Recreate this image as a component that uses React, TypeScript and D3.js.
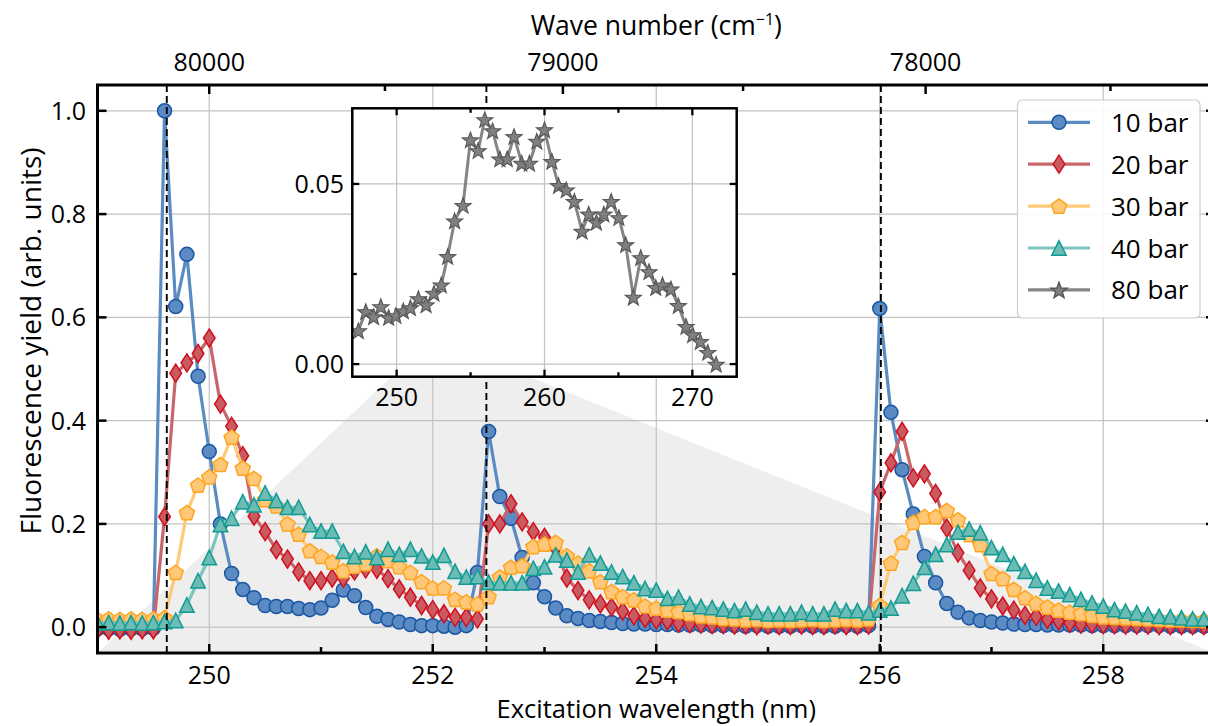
import React from 'react';
import * as d3 from 'd3';

// ---------- DATA ----------
const WL_START = 249.0;
const WL_STEP = 0.1;
const N_POINTS = 101;
const wavelengths: number[] = d3.range(N_POINTS).map((i) => +(WL_START + i * WL_STEP).toFixed(1));

const bar10 = [
  -0.003, -0.003, -0.004, -0.003, -0.003, -0.002,
  1.0, 0.621, 0.722, 0.486, 0.34, 0.2, 0.104, 0.073, 0.057, 0.042, 0.04, 0.04, 0.036, 0.034,
  0.037, 0.052, 0.072, 0.061, 0.038, 0.021, 0.015, 0.01, 0.005, 0.003,
  0.003, 0.002, 0.0, 0.003, 0.106, 0.379, 0.253, 0.211, 0.135, 0.086,
  0.059, 0.037, 0.022, 0.017, 0.013, 0.011, 0.009, 0.007, 0.006, 0.006, 0.005,
  0.005, 0.004, 0.004, 0.004, 0.003, 0.003, 0.003, 0.002, 0.003, 0.002, 0.002, 0.002, 0.003, 0.002,
  0.002, 0.002, 0.003, 0.002, 0.003,
  0.617, 0.416, 0.305, 0.219, 0.137, 0.086, 0.046, 0.029, 0.018, 0.013, 0.01, 0.008, 0.006, 0.005,
  0.005, 0.004, 0.004, 0.004, 0.004, 0.003, 0.003, 0.003, 0.003, 0.003, 0.003, 0.003, 0.002, 0.002,
  0.002, 0.002, 0.002,
];

const bar20 = [
  -0.005, -0.006, -0.005, -0.006, -0.005, -0.005,
  0.214, 0.492, 0.512, 0.53, 0.56, 0.432, 0.389, 0.332, 0.215, 0.185, 0.15, 0.132, 0.107, 0.09,
  0.09, 0.095, 0.095, 0.109, 0.113, 0.112, 0.094, 0.074, 0.058, 0.042,
  0.034, 0.026, 0.019, 0.019, 0.016, 0.2, 0.2, 0.239, 0.204, 0.185,
  0.174, 0.153, 0.095, 0.071, 0.053, 0.045, 0.039, 0.031, 0.022, 0.017, 0.014,
  0.012, 0.008, 0.007, 0.006, 0.005, 0.005, 0.004, 0.004, 0.003, 0.004, 0.003, 0.003, 0.004, 0.003,
  0.003, 0.004, 0.003, 0.003, 0.004,
  0.262, 0.318, 0.379, 0.289, 0.297, 0.259, 0.192, 0.144, 0.11, 0.076, 0.055, 0.041, 0.033, 0.023,
  0.021, 0.015, 0.012, 0.008, 0.006, 0.006, 0.005, 0.005, 0.004, 0.004, 0.004, 0.003, 0.003, 0.003,
  0.003, 0.003, 0.002,
];

const bar30 = [
  0.015, 0.016, 0.015, 0.016, 0.015, 0.016,
  0.018, 0.106, 0.222, 0.275, 0.291, 0.315, 0.368, 0.308, 0.288, 0.247, 0.235, 0.2, 0.18, 0.148,
  0.137, 0.126, 0.109, 0.118, 0.123, 0.138, 0.129, 0.117, 0.106, 0.088,
  0.076, 0.076, 0.054, 0.049, 0.045, 0.059, 0.097, 0.116, 0.119, 0.156,
  0.161, 0.164, 0.138, 0.124, 0.109, 0.088, 0.069, 0.059, 0.053, 0.041, 0.037,
  0.033, 0.03, 0.026, 0.022, 0.02, 0.017, 0.016, 0.014, 0.015, 0.013, 0.014, 0.013, 0.014, 0.015,
  0.013, 0.014, 0.015, 0.014, 0.016,
  0.042, 0.124, 0.164, 0.203, 0.214, 0.214, 0.226, 0.208, 0.179, 0.16, 0.104, 0.094, 0.073, 0.057,
  0.046, 0.039, 0.033, 0.029, 0.026, 0.023, 0.02, 0.019, 0.018, 0.017, 0.016, 0.015, 0.014, 0.014,
  0.013, 0.013, 0.012,
];

const bar40 = [
  0.008, 0.009, 0.008, 0.009, 0.008, 0.009,
  0.011, 0.013, 0.043, 0.09, 0.135, 0.199, 0.211, 0.243, 0.237, 0.26, 0.245, 0.232, 0.232, 0.199,
  0.186, 0.186, 0.147, 0.137, 0.146, 0.135, 0.151, 0.141, 0.151, 0.138,
  0.126, 0.139, 0.108, 0.097, 0.098, 0.087, 0.086, 0.086, 0.086, 0.114,
  0.117, 0.14, 0.13, 0.107, 0.14, 0.124, 0.107, 0.098, 0.086, 0.075,
  0.072, 0.056, 0.058, 0.045, 0.04, 0.038, 0.035, 0.032,
  0.035, 0.029, 0.026, 0.026, 0.026, 0.029, 0.026, 0.026, 0.035, 0.032, 0.032, 0.028,
  0.033, 0.037, 0.061, 0.085, 0.116, 0.141, 0.16, 0.184, 0.19, 0.183,
  0.154, 0.141, 0.123, 0.108, 0.091, 0.076, 0.07, 0.063, 0.054, 0.047,
  0.041, 0.034, 0.031, 0.028, 0.025, 0.021, 0.02, 0.018, 0.016, 0.016, 0.015,
];

// inset: 80 bar, wide scan
const insetWavelengths = [
  247.41, 247.91, 248.44, 248.93, 249.46, 249.95, 250.45, 250.93, 251.47, 251.99,
  252.52, 253.02, 253.45, 253.92, 254.49, 254.99, 255.51, 255.96, 256.49, 256.98,
  257.48, 257.94, 258.46, 258.98, 259.48, 260.0, 260.5, 260.95, 261.47, 262.02,
  262.54, 262.99, 263.51, 264.01, 264.51, 265.03, 265.49, 266.01, 266.51, 267.07,
  267.53, 267.98, 268.55, 269.05, 269.57, 270.02, 270.54, 271.04, 271.61,
];
const bar80 = [
  0.0093, 0.0146, 0.0132, 0.016, 0.013, 0.0135, 0.0148, 0.0157, 0.0182, 0.0165,
  0.0197, 0.022, 0.0299, 0.0398, 0.0441, 0.0623, 0.0593, 0.0679, 0.0648, 0.057,
  0.057, 0.0632, 0.0558, 0.0558, 0.0619, 0.0651, 0.0563, 0.0496, 0.0484, 0.0452,
  0.0369, 0.0417, 0.0394, 0.0417, 0.0452, 0.0407, 0.0332, 0.0186, 0.0296, 0.0257,
  0.0213, 0.022, 0.0209, 0.0163, 0.0105, 0.0082, 0.0063, 0.0033, 0.0,
];

const seriesNames = ['10 bar', '20 bar', '30 bar', '40 bar', '80 bar'];
const bottomTicks = [250, 252, 254, 256, 258];
const bottomMinorTicks = [251, 253, 255, 257];
const leftTicks = [0.0, 0.2, 0.4, 0.6, 0.8, 1.0];
const topTicks = [80000, 79000, 78000];
const topMinorTicks = [79500, 78500, 77500];
const markerWavelengths = [249.62, 252.48, 256.01];
const shadeX = [249, 252, 259];
const shadeY = [-0.05, 0.56, -0.05];
const insetXTicks = [250, 260, 270];
const insetXMinor = [255, 265];
const insetYTicks = [0.0, 0.05];
const insetYMinor = [0.025];

// ---------- STYLE ----------
const FONT = '"Open Sans", "Noto Sans", sans-serif';
const styles = [
  { line: '#5a8bc2', fill: '#5b8bc2', stroke: '#1a56a4', shape: 'circle' },
  { line: '#c8676b', fill: '#c95b60', stroke: '#d10f1f', shape: 'diamond' },
  { line: '#ffc978', fill: '#ffc878', stroke: '#ffa41f', shape: 'pentagon' },
  { line: '#7dc4bf', fill: '#6cbbb5', stroke: '#109b93', shape: 'triangle' },
  { line: '#858585', fill: '#808080', stroke: '#585858', shape: 'star' },
];

function markerPath(shape: string): string {
  switch (shape) {
    case 'circle': {
      const r = 7;
      return `M${r},0A${r},${r} 0 1,1 ${-r},0A${r},${r} 0 1,1 ${r},0Z`;
    }
    case 'diamond': {
      const h = 9, w = 5.8;
      return `M0,${-h}L${w},0L0,${h}L${-w},0Z`;
    }
    case 'pentagon': {
      const R = 7.9;
      const pts = d3.range(5).map((k) => {
        const a = (-90 + 72 * k) * Math.PI / 180;
        return [R * Math.cos(a), R * Math.sin(a) + 0.7];
      });
      return 'M' + pts.map((p) => p.join(',')).join('L') + 'Z';
    }
    case 'triangle': {
      const h = 7.2;
      return `M0,${-h}L${h},${h}L${-h},${h}Z`;
    }
    case 'star': {
      const Ro = 8.4, Ri = 3.5;
      const pts = d3.range(10).map((k) => {
        const a = (-90 + 36 * k) * Math.PI / 180;
        const r = k % 2 === 0 ? Ro : Ri;
        return [r * Math.cos(a), r * Math.sin(a) + 0.9];
      });
      return 'M' + pts.map((p) => p.join(',')).join('L') + 'Z';
    }
  }
  return '';
}

export default function App() {
  const W = 1208, H = 726;
  const x = d3.scaleLinear().domain([249, 259]).range([97.5, 1215]);
  const y = d3.scaleLinear().domain([-0.05, 1.05]).range([653, 85]);
  const left = x.range()[0], right = x.range()[1];
  const top = y.range()[1], bottom = y.range()[0];

  const ix = d3.scaleLinear().domain([247, 273]).range([352.3, 736.7]);
  const iy = d3.scaleLinear().domain([-0.0035, 0.071]).range([376.7, 108.3]);
  const il = ix.range()[0], ir = ix.range()[1], it = iy.range()[1], ib = iy.range()[0];

  const mainSeries = [bar10, bar20, bar30, bar40];
  const line = d3.line<[number, number]>().x((d) => x(d[0])).y((d) => y(d[1]));
  const iline = d3.line<[number, number]>().x((d) => ix(d[0])).y((d) => iy(d[1]));

  const shadePts = shadeX.map((v, i) => `${x(v)},${y(shadeY[i])}`).join(' ');

  const tickW = 2.5;
  const major = 9, minor = 6;
  const imajor = 7, iminor = 4.5;
  const TF = 25;

  return (
    <svg width={W} height={H} style={{ position: 'absolute', left: 0, top: 0, background: '#fff' }}
      fontFamily={FONT}>
      <defs>
        <clipPath id="plotClip">
          <rect x={left} y={top} width={right - left} height={bottom - top} />
        </clipPath>
        <clipPath id="insetClip">
          <rect x={il} y={it} width={ir - il} height={ib - it} />
        </clipPath>
      </defs>

      {/* shaded zoom indicator */}
      <polygon points={shadePts} fill="#eeeeee" clipPath="url(#plotClip)" />

      {/* gridlines */}
      {bottomTicks.map((t) => (
        <line key={'gx' + t} x1={x(t)} x2={x(t)} y1={top} y2={bottom} stroke="#c2c2c2" strokeWidth={1.2} />
      ))}
      {leftTicks.map((t) => (
        <line key={'gy' + t} x1={left} x2={right} y1={y(t)} y2={y(t)} stroke="#c2c2c2" strokeWidth={1.2} />
      ))}

      {/* series */}
      <g clipPath="url(#plotClip)">
        {mainSeries.map((vals, si) => {
          const st = styles[si];
          const pts: [number, number][] = vals.map((v, i) => [wavelengths[i], v]);
          const mp = markerPath(st.shape);
          return (
            <g key={'s' + si}>
              <path d={line(pts) || ''} fill="none" stroke={st.line} strokeWidth={3.2} strokeLinejoin="round" />
              {pts.map((p, i) => (
                <path key={i} d={mp} transform={`translate(${x(p[0])},${y(p[1])})`}
                  fill={st.fill} stroke={st.stroke} strokeWidth={1.5} strokeLinejoin="miter" />
              ))}
            </g>
          );
        })}
      </g>

      {/* dashed reference lines */}
      {markerWavelengths.map((m) => (
        <line key={'d' + m} x1={x(m)} x2={x(m)} y1={top} y2={bottom} stroke="#000" strokeWidth={1.9} strokeDasharray="7,4" />
      ))}

      {/* axes frame and ticks */}
      <rect x={left} y={top} width={right - left} height={bottom - top} fill="none" stroke="#000" strokeWidth={3} />
      {bottomTicks.map((t) => (
        <g key={'bt' + t}>
          <line x1={x(t)} x2={x(t)} y1={bottom} y2={bottom - major} stroke="#000" strokeWidth={tickW} />
          <text x={x(t)} y={684} textAnchor="middle" fontSize={TF}>{t}</text>
        </g>
      ))}
      {bottomMinorTicks.map((t) => (
        <line key={'bm' + t} x1={x(t)} x2={x(t)} y1={bottom} y2={bottom - minor} stroke="#000" strokeWidth={tickW} />
      ))}
      {leftTicks.map((t) => (
        <g key={'lt' + t}>
          <line x1={left} x2={left + major} y1={y(t)} y2={y(t)} stroke="#000" strokeWidth={tickW} />
          <line x1={right} x2={right - major} y1={y(t)} y2={y(t)} stroke="#000" strokeWidth={tickW} />
          <text x={86} y={y(t) + 9} textAnchor="end" fontSize={TF}>{t.toFixed(1)}</text>
        </g>
      ))}
      {topTicks.map((t) => (
        <g key={'tt' + t}>
          <line x1={x(2e7 / t)} x2={x(2e7 / t)} y1={top} y2={top + major} stroke="#000" strokeWidth={tickW} />
          <text x={x(2e7 / t)} y={71} textAnchor="middle" fontSize={TF}>{t}</text>
        </g>
      ))}
      {topMinorTicks.map((t) => (
        <line key={'tm' + t} x1={x(2e7 / t)} x2={x(2e7 / t)} y1={top} y2={top + minor} stroke="#000" strokeWidth={tickW} />
      ))}

      {/* axis titles */}
      <text x={(left + right) / 2} y={718} textAnchor="middle" fontSize={25.5}>Excitation wavelength (nm)</text>
      <text transform={`translate(41,341) rotate(-90)`} textAnchor="middle" fontSize={28}>
        Fluorescence yield (arb. units)
      </text>
      <text x={(left + right) / 2} y={35} textAnchor="middle" fontSize={26.5}>
        Wave number (cm<tspan dy={-10} fontSize={16}>−1</tspan><tspan dy={10}>)</tspan>
      </text>

      {/* inset */}
      <g>
        <rect x={il} y={it} width={ir - il} height={ib - it} fill="#fff" />
        {insetXTicks.map((t) => (
          <line key={'igx' + t} x1={ix(t)} x2={ix(t)} y1={it} y2={ib} stroke="#c2c2c2" strokeWidth={1.2} />
        ))}
        {insetYTicks.map((t) => (
          <line key={'igy' + t} x1={il} x2={ir} y1={iy(t)} y2={iy(t)} stroke="#c2c2c2" strokeWidth={1.2} />
        ))}
        <g clipPath="url(#insetClip)">
          <path d={iline(insetWavelengths.map((w, i) => [w, bar80[i]] as [number, number])) || ''} fill="none"
            stroke={styles[4].line} strokeWidth={3} strokeLinejoin="round" />
          {insetWavelengths.map((w, i) => (
            <path key={'st' + i} d={markerPath('star')} transform={`translate(${ix(w)},${iy(bar80[i])})`}
              fill={styles[4].fill} stroke={styles[4].stroke} strokeWidth={1.2} />
          ))}
        </g>
        <rect x={il} y={it} width={ir - il} height={ib - it} fill="none" stroke="#000" strokeWidth={2.5} />
        {insetXTicks.map((t) => (
          <g key={'ixt' + t}>
            <line x1={ix(t)} x2={ix(t)} y1={ib} y2={ib - imajor} stroke="#000" strokeWidth={2.3} />
            <line x1={ix(t)} x2={ix(t)} y1={it} y2={it + imajor} stroke="#000" strokeWidth={2.3} />
            <text x={ix(t)} y={406} textAnchor="middle" fontSize={TF}>{t}</text>
          </g>
        ))}
        {insetXMinor.map((t) => (
          <g key={'ixm' + t}>
            <line x1={ix(t)} x2={ix(t)} y1={ib} y2={ib - iminor} stroke="#000" strokeWidth={2.3} />
            <line x1={ix(t)} x2={ix(t)} y1={it} y2={it + iminor} stroke="#000" strokeWidth={2.3} />
          </g>
        ))}
        {insetYTicks.map((t) => (
          <g key={'iyt' + t}>
            <line x1={il} x2={il + imajor} y1={iy(t)} y2={iy(t)} stroke="#000" strokeWidth={2.3} />
            <line x1={ir} x2={ir - imajor} y1={iy(t)} y2={iy(t)} stroke="#000" strokeWidth={2.3} />
            <text x={344} y={iy(t) + 9} textAnchor="end" fontSize={TF}>{t.toFixed(2)}</text>
          </g>
        ))}
        {insetYMinor.map((t) => (
          <g key={'iym' + t}>
            <line x1={il} x2={il + iminor} y1={iy(t)} y2={iy(t)} stroke="#000" strokeWidth={2.3} />
            <line x1={ir} x2={ir - iminor} y1={iy(t)} y2={iy(t)} stroke="#000" strokeWidth={2.3} />
          </g>
        ))}
      </g>

      {/* legend */}
      <g>
        <rect x={1017.5} y={100} width={182.5} height={218} rx={5} fill="#fff" fillOpacity={0.9} stroke="#cccccc" strokeWidth={1.2} />
        {seriesNames.map((name, i) => {
          const st = styles[i];
          const ry = 122.3 + i * 41.9;
          return (
            <g key={'lg' + i}>
              <line x1={1028} x2={1090} y1={ry} y2={ry} stroke={st.line} strokeWidth={3.2} />
              <path d={markerPath(st.shape)} transform={`translate(1059,${ry})`} fill={st.fill} stroke={st.stroke} strokeWidth={1.5} />
              <text x={1111} y={ry + 9.5} fontSize={26}>{name}</text>
            </g>
          );
        })}
      </g>
    </svg>
  );
}
